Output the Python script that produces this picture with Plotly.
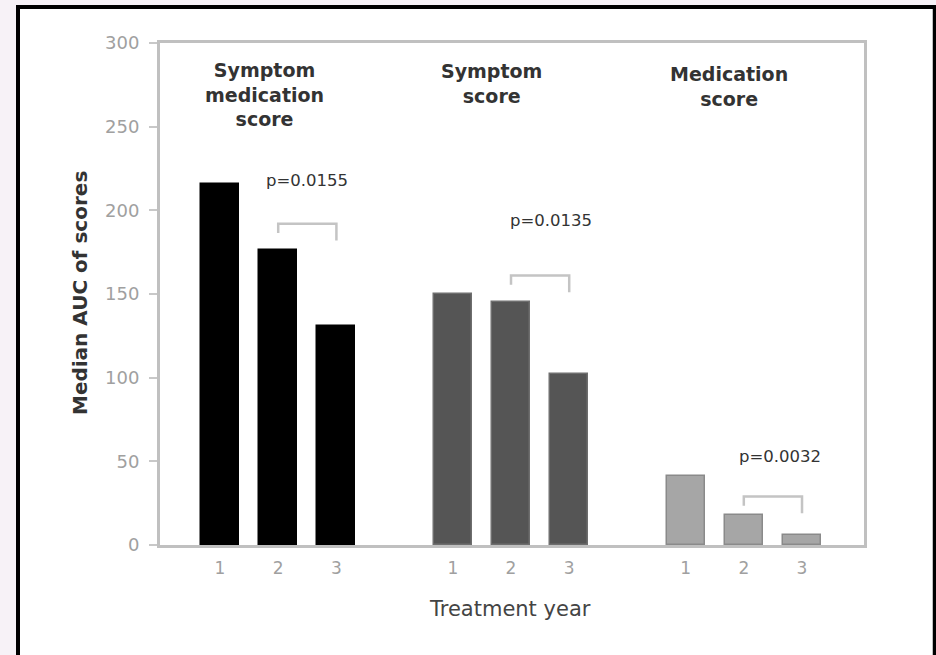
import plotly.graph_objects as go

# ---- data ----
years = ["1", "2", "3"]
group_titles = ["Symptom<br>medication<br>score", "Symptom<br>score", "Medication<br>score"]
symptom_medication_score = [216, 176, 131]
symptom_score = [150, 145, 102]
medication_score = [41, 18, 6]
p_labels = ["p=0.0155", "p=0.0135", "p=0.0032"]
bracket_level = [192, 161, 29]
y_ticks = [0, 50, 100, 150, 200, 250, 300]

series = [symptom_medication_score, symptom_score, medication_score]
fill_colors = ["#000000", "#555555", "#a6a6a6"]
edge_colors = ["#000000", "#6e6e6e", "#8a8a8a"]
group_start = [1, 5, 9]

FONT = "DejaVu Sans"

fig = go.Figure()

tickvals, ticktext = [], []
for g, vals in enumerate(series):
    xs = [group_start[g] + i for i in range(len(years))]
    tickvals += xs
    ticktext += years
    fig.add_trace(go.Bar(
        x=xs, y=vals, width=0.65,
        marker=dict(color=fill_colors[g], line=dict(color=edge_colors[g], width=1.5)),
        showlegend=False, hoverinfo="y",
    ))

# significance brackets between year 2 and year 3
for g in range(3):
    x2 = group_start[g] + 1
    x3 = group_start[g] + 2
    yb = bracket_level[g]
    fig.add_trace(go.Scatter(
        x=[x2, x2, x3, x3], y=[yb - 5.5, yb, yb, yb - 10],
        mode="lines", line=dict(color="#c4c4c4", width=2.5),
        showlegend=False, hoverinfo="skip",
    ))

annotations = []
title_offsets = [-0.24, -0.33, -0.25]
title_y = [269, 276, 274]
for g in range(3):
    annotations.append(dict(
        x=group_start[g] + 1 + title_offsets[g], y=title_y[g], xref="x", yref="y",
        text="<b>" + group_titles[g] + "</b>", showarrow=False,
        font=dict(family=FONT, size=19, color="#333333"), align="center",
        yanchor="middle",
    ))

p_x = [2.49, 6.69, 10.63]
p_y = [218, 194, 53]
for g in range(3):
    annotations.append(dict(
        x=p_x[g], y=p_y[g], xref="x", yref="y", text=p_labels[g], showarrow=False,
        font=dict(family=FONT, size=16.5, color="#333333"), yanchor="middle",
    ))

annotations.append(dict(
    x=-0.1136, y=0.502, xref="paper", yref="paper", text="<b>Median AUC of scores</b>",
    textangle=-90, showarrow=False, font=dict(family=FONT, size=20, color="#333333"),
    xanchor="center", yanchor="middle",
))
annotations.append(dict(
    x=0.497, y=-0.1275, xref="paper", yref="paper", text="Treatment year",
    showarrow=False, font=dict(family=FONT, size=21, color="#444444"),
    xanchor="center", yanchor="middle",
))

fig.update_layout(
    width=936, height=655,
    margin=dict(l=160, r=72, t=43, b=110, autoexpand=False),
    paper_bgcolor="#f7f2f7", plot_bgcolor="#ffffff",
    bargap=0, annotations=annotations,
    shapes=[dict(
        type="rect", xref="paper", yref="paper", layer="below",
        x0=-0.2017, x1=1.1005, y0=-0.30, y1=1.0717,
        fillcolor="#ffffff", line=dict(color="#000000", width=4),
    )],
    xaxis=dict(
        range=[-0.031, 12.065], tickvals=tickvals, ticktext=ticktext,
        showgrid=False, zeroline=False, showline=True, linecolor="#c0c0c0", linewidth=3,
        mirror=True, ticks="outside", ticklen=6, tickcolor="rgba(0,0,0,0)",
        tickfont=dict(family=FONT, size=17, color="#a0a0a0"),
    ),
    yaxis=dict(
        range=[0, 300], tickvals=y_ticks, showgrid=False, zeroline=False,
        showline=True, linecolor="#c0c0c0", linewidth=3, mirror=True,
        ticks="outside", ticklen=8, tickwidth=2, tickcolor="#c8c8c8",
        ticklabelstandoff=6,
        tickfont=dict(family=FONT, size=18, color="#a0a0a0"),
    ),
)

fig.write_html(
    "out.html",
    config={"displayModeBar": False},
    post_script="document.body.style.margin='0';document.body.style.background='#f7f2f7';",
)
